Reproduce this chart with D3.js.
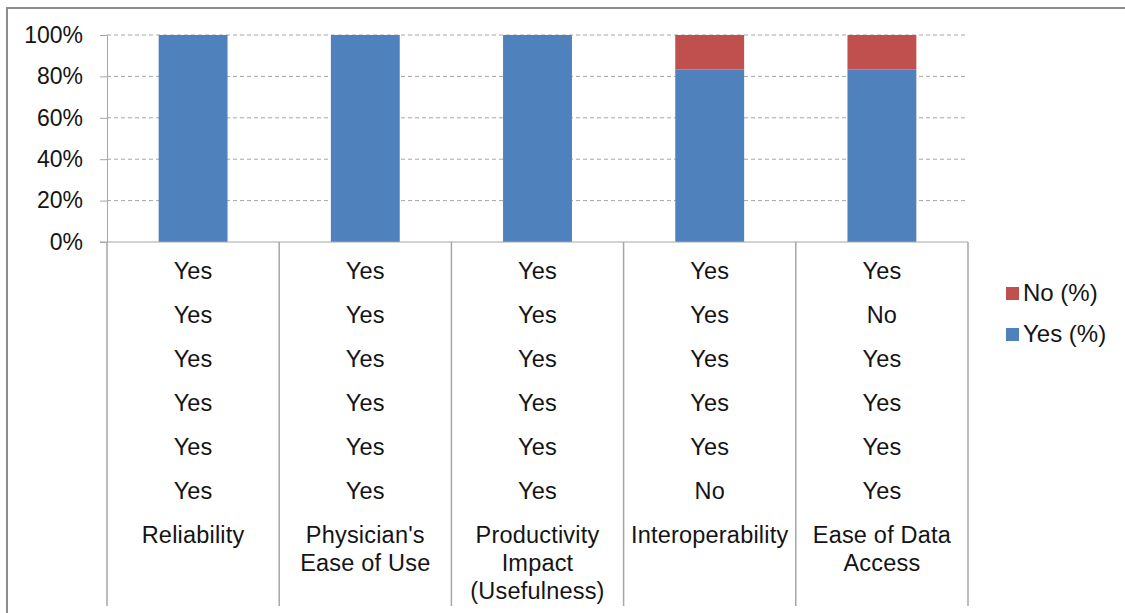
<!DOCTYPE html>
<html><head><meta charset="utf-8">
<script src="https://cdn.jsdelivr.net/npm/d3@7"></script>
<style>
body{margin:0;background:#fff;}
svg{display:block;font-family:Arial,"Liberation Sans",sans-serif;}
</style></head>
<body>
<svg id="chart" width="1125" height="613"></svg>
<script>
const categories = ["Reliability","Physician's Ease of Use","Productivity Impact (Usefulness)","Interoperability","Ease of Data Access"];
const categoryLines = [["Reliability"],["Physician's","Ease of Use"],["Productivity","Impact","(Usefulness)"],["Interoperability"],["Ease of Data","Access"]];
const yesPct = [100,100,100,83.33,83.33];
const noPct  = [0,0,0,16.67,16.67];
const responses = [
  ["Yes","Yes","Yes","Yes","Yes","Yes"],
  ["Yes","Yes","Yes","Yes","Yes","Yes"],
  ["Yes","Yes","Yes","Yes","Yes","Yes"],
  ["Yes","Yes","Yes","Yes","Yes","No"],
  ["Yes","No","Yes","Yes","Yes","Yes"]
];
const yTicks = [0,20,40,60,80,100];
const seriesNames = ["No (%)","Yes (%)"];
const colors = {"Yes (%)":"#4F81BD","No (%)":"#C0504D"};

const svg = d3.select("#chart");
const plotL = 107, plotR = 968, plotT = 35, plotB = 242;

// outer frame
svg.append("rect").attr("x",7).attr("y",8).attr("width",1130).attr("height",620)
  .attr("fill","none").attr("stroke","#8c8c8c").attr("stroke-width",2);

const x = d3.scaleBand().domain(categories).range([plotL,plotR]).paddingInner(0.6).paddingOuter(0.3);
const xc = d3.scaleBand().domain(categories).range([plotL,plotR]);
const y = d3.scaleLinear().domain([0,100]).range([plotB,plotT]);

// gridlines
svg.append("g").selectAll("line").data(yTicks.filter(d=>d>0)).join("line")
  .attr("x1",plotL).attr("x2",plotR).attr("y1",d=>y(d)).attr("y2",d=>y(d))
  .attr("stroke","#a6a6a6").attr("stroke-width",1).attr("stroke-dasharray","4,3");

// stacked bars
const rows = categories.map((c,i)=>({cat:c,"Yes (%)":yesPct[i],"No (%)":noPct[i]}));
const stack = d3.stack().keys(["Yes (%)","No (%)"])(rows);
svg.append("g").selectAll("g").data(stack).join("g").attr("fill",d=>colors[d.key])
  .selectAll("rect").data(d=>d).join("rect")
  .attr("x",d=>x(d.data.cat)).attr("width",x.bandwidth())
  .attr("y",d=>y(d[1])).attr("height",d=>y(d[0])-y(d[1]));

// y axis
const yAxis = d3.axisLeft(y).tickValues(yTicks).tickFormat(d=>d+"%").tickSize(7).tickPadding(17);
const ga = svg.append("g").attr("transform",`translate(${plotL},0)`).call(yAxis);
ga.select(".domain").attr("stroke","#a6a6a6");
ga.selectAll(".tick line").attr("stroke","#a6a6a6");
ga.selectAll(".tick text").attr("font-size",23).attr("fill","#141414").attr("font-family","Arial, 'Liberation Sans', sans-serif");

// table lines
svg.append("line").attr("x1",plotL-7).attr("x2",plotR).attr("y1",plotB).attr("y2",plotB).attr("stroke","#a6a6a6");
const edges = categories.map(c=>xc(c)).concat([plotR]);
svg.append("g").selectAll("line").data(edges).join("line")
  .attr("x1",d=>d).attr("x2",d=>d).attr("y1",plotB).attr("y2",606)
  .attr("stroke","#a6a6a6").attr("stroke-width",1.5);

// table text
const rowY0 = 271, rowStep = 44;
const tg = svg.append("g").attr("font-size",23.5).attr("fill","#141414").attr("text-anchor","middle").attr("letter-spacing","0.2px");
categories.forEach((c,i)=>{
  const cx = xc(c)+xc.bandwidth()/2;
  responses[i].forEach((r,j)=>{
    tg.append("text").attr("x",cx).attr("y",rowY0+j*rowStep).attr("dy","0.35em").text(r);
  });
  categoryLines[i].forEach((l,k)=>{
    tg.append("text").attr("x",cx).attr("y",rowY0+6*rowStep+k*28).attr("dy","0.35em").text(l);
  });
});

// legend
const lg = svg.append("g");
seriesNames.forEach((s,i)=>{
  const ly = 293 + i*41;
  lg.append("rect").attr("x",1006).attr("y",ly-6).attr("width",13).attr("height",13).attr("fill",colors[s]);
  lg.append("text").attr("x",1023).attr("y",ly).attr("dy","0.35em").attr("font-size",24).attr("fill","#141414").text(s);
});
</script>
</body></html>
